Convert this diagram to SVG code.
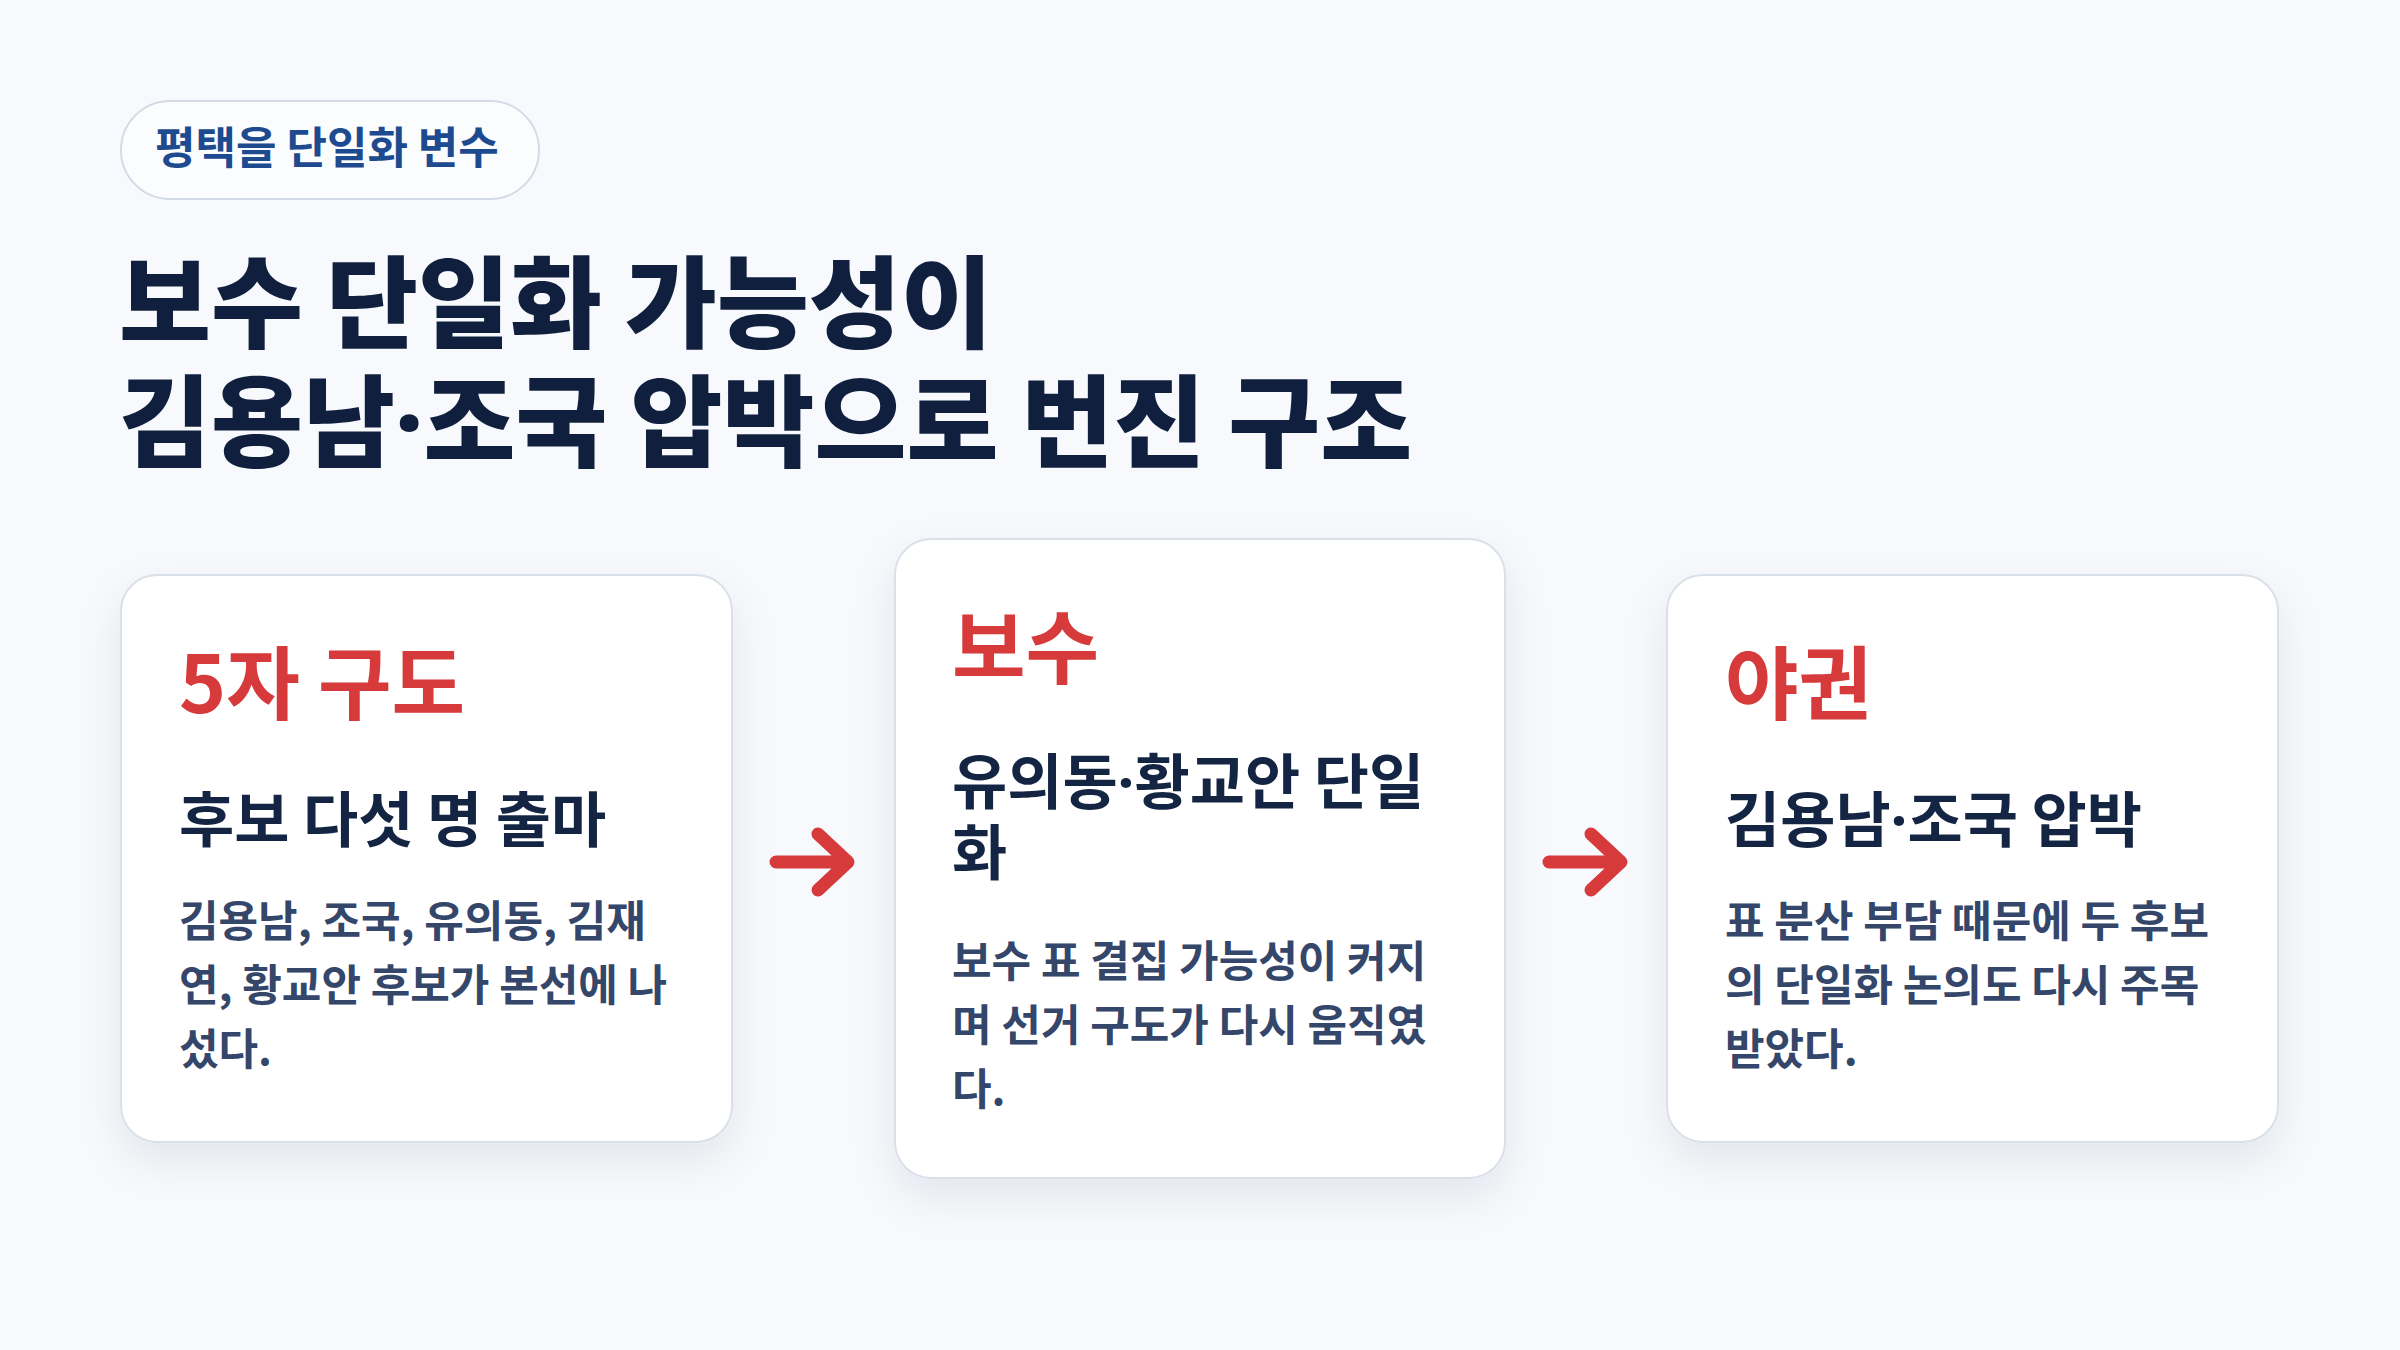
<svg xmlns="http://www.w3.org/2000/svg" width="2400" height="1350" viewBox="0 0 2400 1350">
<defs>
<filter id="sh" x="-20%" y="-20%" width="140%" height="150%"><feDropShadow dx="0" dy="18" stdDeviation="22" flood-color="#1b2a4a" flood-opacity="0.08"/></filter>
<style>
text{font-family:"Noto Sans CJK KR","Noto Sans",sans-serif;font-weight:700}
.d{font-family:"Noto Sans",sans-serif}
.card{fill:#fff;stroke:#d9e0ea;stroke-width:2}
.h{fill:#d63a3a;font-size:80px}
.s{fill:#142543;font-size:60px}
.b{fill:#34466a;font-size:43px}
.ar{fill:none;stroke:#d63a3a;stroke-width:13;stroke-linecap:round;stroke-linejoin:round}
</style>
</defs>
<rect width="2400" height="1350" fill="#f7f9fc"/>
<g id="badge"><rect x="121" y="101" width="418" height="98" rx="49" fill="#fbfcfe" stroke="#d3dbe6" stroke-width="2"/><text x="155" y="164" font-size="44" fill="#1e4b8f">평택을 단일화 변수</text></g>
<g id="title"><text x="119" y="340" fill="#0f1f3d" style="font-size:100px;font-weight:800">보수 단일화 가능성이</text><text x="119" y="459" style="font-size:100px;font-weight:800" fill="#0f1f3d">김용남<tspan class="d">·</tspan>조국 압박으로 번진 구조</text></g>
<g id="card1"><rect class="card" x="121" y="575" width="611" height="567" rx="36" filter="url(#sh)"/>
<text class="h" x="179" y="713">5자 구도</text><text class="s" x="179" y="842">후보 다섯 명 출마</text>
<text class="b" x="179" y="937">김용남, 조국, 유의동, 김재</text><text class="b" x="179" y="1001">연, 황교안 후보가 본선에 나</text><text class="b" x="179" y="1065">섰다.</text></g>
<g id="card2"><rect class="card" x="895" y="539" width="610" height="639" rx="36" filter="url(#sh)"/>
<text class="h" x="952" y="677">보수</text><text class="s" x="952" y="804">유의동<tspan class="d">·</tspan>황교안 단일</text><text class="s" x="952" y="875">화</text>
<text class="b" x="952" y="977">보수 표 결집 가능성이 커지</text><text class="b" x="952" y="1041">며 선거 구도가 다시 움직였</text><text class="b" x="952" y="1105">다.</text></g>
<g id="card3"><rect class="card" x="1667" y="575" width="611" height="567" rx="36" filter="url(#sh)"/>
<text class="h" x="1725" y="713">야권</text><text class="s" x="1725" y="842">김용남<tspan class="d">·</tspan>조국 압박</text>
<text class="b" x="1725" y="937">표 분산 부담 때문에 두 후보</text><text class="b" x="1725" y="1001">의 단일화 논의도 다시 주목</text><text class="b" x="1725" y="1065">받았다.</text></g>
<g id="connectors">
<path class="ar" d="M776 862H846M818 834L848 862L818 890"/>
<path class="ar" d="M1549 862H1619M1591 834L1621 862L1591 890"/>
</g>
</svg>
